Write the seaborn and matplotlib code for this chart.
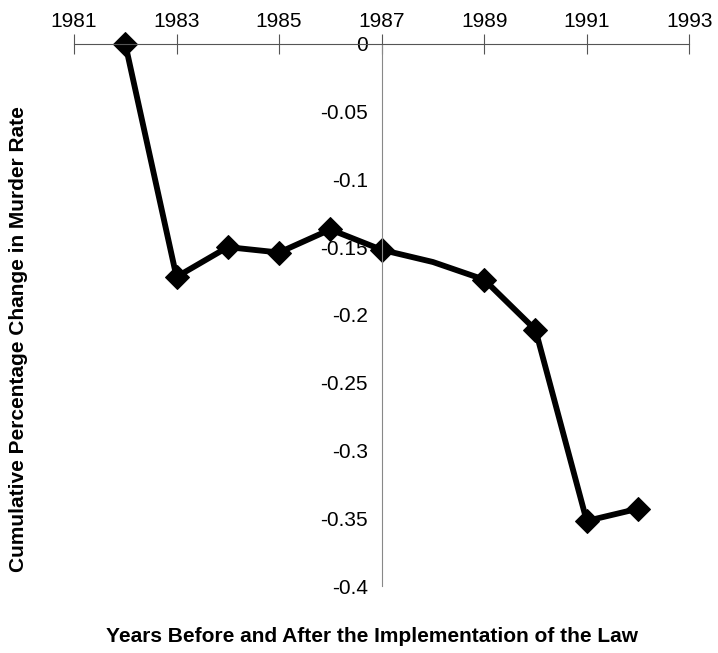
import matplotlib
matplotlib.use("Agg")
import matplotlib.pyplot as plt
import seaborn as sns
import pandas as pd

# cumulative percentage change in murder rate, by year
years = [1982, 1983, 1984, 1985, 1986, 1987, 1988, 1989, 1990, 1991, 1992]
change = [0.0, -0.172, -0.150, -0.154, -0.137, -0.152, -0.161, -0.174, -0.211, -0.352, -0.343]
# 1988 has no marker in the original
marked = [True, True, True, True, True, True, False, True, True, True, True]

x_ticks = [1981, 1983, 1985, 1987, 1989, 1991, 1993]
y_ticks = [0, -0.05, -0.1, -0.15, -0.2, -0.25, -0.3, -0.35, -0.4]
y_labels = ["0", "-0.05", "-0.1", "-0.15", "-0.2", "-0.25", "-0.3", "-0.35", "-0.4"]

df = pd.DataFrame({"year": years, "change": change})

sns.set_style("white")
plt.rcParams["font.family"] = ["Liberation Sans", "DejaVu Sans"]
plt.rcParams["text.color"] = "black"
plt.rcParams["xtick.labelcolor"] = "black"
plt.rcParams["ytick.labelcolor"] = "black"

fig = plt.figure(figsize=(7.18, 6.53), dpi=100)
ax = fig.add_axes([0.103, 0.1026, 0.857, 0.8304])

sns.lineplot(data=df, x="year", y="change", ax=ax, color="black", lw=4.2,
             marker="D", markersize=12.5, markeredgecolor="black", clip_on=False,
             markevery=[i for i, m in enumerate(marked) if m])

ax.set_xlim(1981, 1993)
ax.set_ylim(-0.4, 0)

# x axis along the top (y = 0), y axis crossing at 1987
for s in ["bottom", "right"]:
    ax.spines[s].set_visible(False)
ax.spines["top"].set_color("#555555")
ax.spines["top"].set_linewidth(0.8)
ax.spines["left"].set_position(("data", 1987))
ax.spines["left"].set_color("#888888")
ax.spines["left"].set_linewidth(0.8)

ax.xaxis.set_ticks_position("top")
ax.xaxis.set_label_position("top")
ax.set_xticks(x_ticks)
ax.set_xticklabels([str(t) for t in x_ticks])
ax.tick_params(axis="x", direction="inout", length=14, width=0.8, color="#555555",
               labelsize=15, pad=2)

ax.set_yticks(y_ticks)
ax.set_yticklabels(y_labels)
ax.tick_params(axis="y", direction="inout", length=8, width=0.8, color="#888888",
               labelsize=15, pad=6)

ax.set_xlabel("")
ax.set_ylabel("")
ax.grid(False)

fig.text(0.026, 0.48, "Cumulative Percentage Change in Murder Rate", rotation=90,
         ha="center", va="center", fontsize=15, fontweight="bold")
fig.text(0.518, 0.025, "Years Before and After the Implementation of the Law",
         ha="center", va="center", fontsize=15, fontweight="bold")

fig.savefig("out.png", dpi=100)
